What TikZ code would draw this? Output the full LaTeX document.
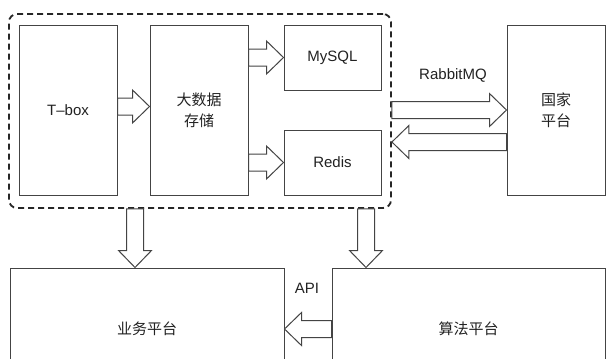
\documentclass[tikz,border=0pt]{standalone}
\usepackage{fontspec}
\setmainfont{Liberation Sans}
\newfontfamily\cjk{Noto Sans CJK SC}
\usetikzlibrary{calc}
\definecolor{linec}{HTML}{444444}
\definecolor{textc}{HTML}{222222}
\tikzset{
  box/.style={draw=linec, line width=1pt, fill=white, inner sep=0pt, text=textc,
    font=\fontsize{15}{21}\selectfont, align=center},
  group/.style={draw=black!85, line width=1.8pt, dash pattern=on 6pt off 4pt, rounded corners=8pt, inner sep=0pt},
  fatarrow/.style={draw=linec, line width=1pt, fill=white, line join=miter},
  lbl/.style={text=textc, font=\fontsize{15}{18}\selectfont, inner sep=0pt}
}
\newcommand\fatarrow[2]{%
  \coordinate (fa-s) at (#1);
  \coordinate (fa-e) at (#2);
  \coordinate (fa-b) at ($(fa-e)!17pt!(fa-s)$);
  \draw[fatarrow] ($(fa-s)!8.5pt!90:(fa-e)$) -- ($(fa-b)!8.5pt!-90:(fa-s)$)
    -- ($(fa-b)!16.5pt!-90:(fa-s)$) -- (fa-e) -- ($(fa-b)!16.5pt!90:(fa-s)$)
    -- ($(fa-b)!8.5pt!90:(fa-s)$) -- ($(fa-s)!8.5pt!-90:(fa-e)$) -- cycle;
}
\begin{document}
\begin{tikzpicture}[x=1pt, y=-1pt]
\useasboundingbox (0,0) rectangle (606,359);
\clip (0,0) rectangle (606,359);
\fill[white] (0,0) rectangle (606,359);
% dashed group
\node[group, minimum width=382pt, minimum height=194pt] (grp) at (200,111) {};
% boxes in group
\node[box, minimum width=98pt, minimum height=170pt] (tbox) at (68,110) {T–box};
\node[box, minimum width=98pt, minimum height=170pt] (big) at (199,110) {\cjk 大数据\\\cjk 存储};
\node[box, minimum width=97pt, minimum height=65pt] (mysql) at (332.5,57.5) {MySQL};
\node[box, minimum width=97pt, minimum height=65pt] (redis) at (332.5,162.5) {Redis};
% right box
\node[box, minimum width=98pt, minimum height=170pt] (gj) at (556,110) {\cjk 国家\\\cjk 平台};
% bottom boxes (clipped at bottom)
\node[box, minimum width=274pt, minimum height=122pt] (yw) at (147,329) {\cjk 业务平台};
\node[box, minimum width=273pt, minimum height=122pt] (sf) at (468.5,329) {\cjk 算法平台};
% labels
\node[lbl] (rmq) at (453,75) {RabbitMQ};
\node[lbl] (api) at (307,288) {API};
% arrows
\fatarrow{$(tbox.east)+(0,-3.5)$}{$(big.west)+(0,-3.5)$}
\fatarrow{big.east |- mysql.west}{mysql.west}
\fatarrow{big.east |- redis.west}{redis.west}
\fatarrow{grp.east |- gj.west}{gj.west}
\coordinate (gjl) at ($(gj.west)+(0,32)$);
\fatarrow{gjl}{grp.east |- gjl}
\coordinate (d1) at (135,0);
\coordinate (d2) at (366,0);
\fatarrow{grp.south -| d1}{yw.north -| d1}
\fatarrow{grp.south -| d2}{sf.north -| d2}
\fatarrow{sf.west}{yw.east}
\end{tikzpicture}
\end{document}
